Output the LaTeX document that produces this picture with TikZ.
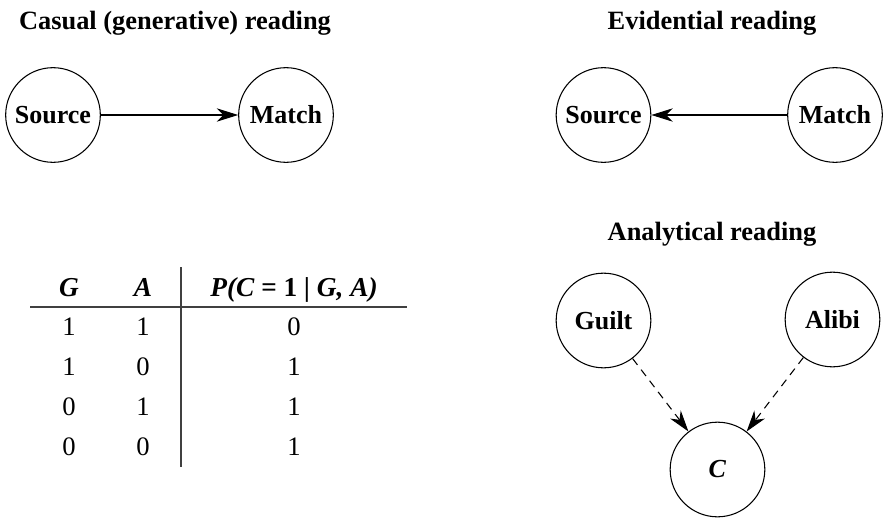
\documentclass[tikz,border=0pt]{standalone}
\usepackage{fontspec}
\setmainfont{Liberation Serif}
\usetikzlibrary{arrows.meta}

\begin{document}
\begin{tikzpicture}[x=0.75pt,y=-0.75pt,
  var/.style={circle,draw,line width=0.8pt,minimum size=71pt,inner sep=0pt,font=\fontsize{19.5}{23}\selectfont\bfseries},
  heading/.style={font=\fontsize{19.8}{23}\selectfont\bfseries},
  link/.style={line width=0.8pt,-{Stealth[length=16pt,width=10pt,inset=5pt]}},
  dlink/.style={link,dash pattern=on 6pt off 4.5pt},
  cell/.style={anchor=base,font=\fontsize{20}{24}\selectfont},
  hcell/.style={anchor=base,font=\fontsize{20.5}{24}\selectfont\bfseries\itshape},
  rule/.style={line width=1pt,black!75}]
\path[use as bounding box] (0,0) rectangle (883,518);
% headings
\node[heading,anchor=base] (causal) at (175,29) {Casual (generative) reading};
\node[heading,anchor=base] (evid) at (712,29) {Evidential reading};
\node[heading,anchor=base] (anal) at (712,240) {Analytical reading};
% causal reading
\node[var] (src1) at (53,115) {Source};
\node[var] (mat1) at (286,115) {Match};
\draw[link] (src1) -- (mat1);
% evidential reading
\node[var] (src2) at (603.5,115) {Source};
\node[var] (mat2) at (835,115) {Match};
\draw[link] (mat2) -- (src2);
% analytical reading
\node[var] (guilt) at (603.5,320.5) {Guilt};
\node[var] (alibi) at (832.5,319.5) {Alibi};
\node[var] (c) at (717.5,469.5) {\textit{C}};
\draw[dlink] (guilt) -- (c);
\draw[dlink] (alibi) -- (c);
% table
\coordinate (hl) at (30,307);
\coordinate (hr) at (407,307);
\coordinate (vt) at (181,267);
\coordinate (vb) at (181,467);
\draw[rule] (hl) -- (hr);
\draw[rule] (vt) -- (vb);
\node[hcell] (hg) at (69,296) {G};
\node[hcell] (ha) at (143,296) {A};
\node[hcell] (hp) at (294,296) {P(C = \textup{1} | G, A)};
\node[cell] (g1) at (69,335.5) {1};
\node[cell] (a1) at (143,335.5) {1};
\node[cell] (p1) at (294,335.5) {0};
\node[cell] (g2) at (69,375.5) {1};
\node[cell] (a2) at (143,375.5) {0};
\node[cell] (p2) at (294,375.5) {1};
\node[cell] (g3) at (69,415.5) {0};
\node[cell] (a3) at (143,415.5) {1};
\node[cell] (p3) at (294,415.5) {1};
\node[cell] (g4) at (69,455.5) {0};
\node[cell] (a4) at (143,455.5) {0};
\node[cell] (p4) at (294,455.5) {1};
\end{tikzpicture}
\end{document}
